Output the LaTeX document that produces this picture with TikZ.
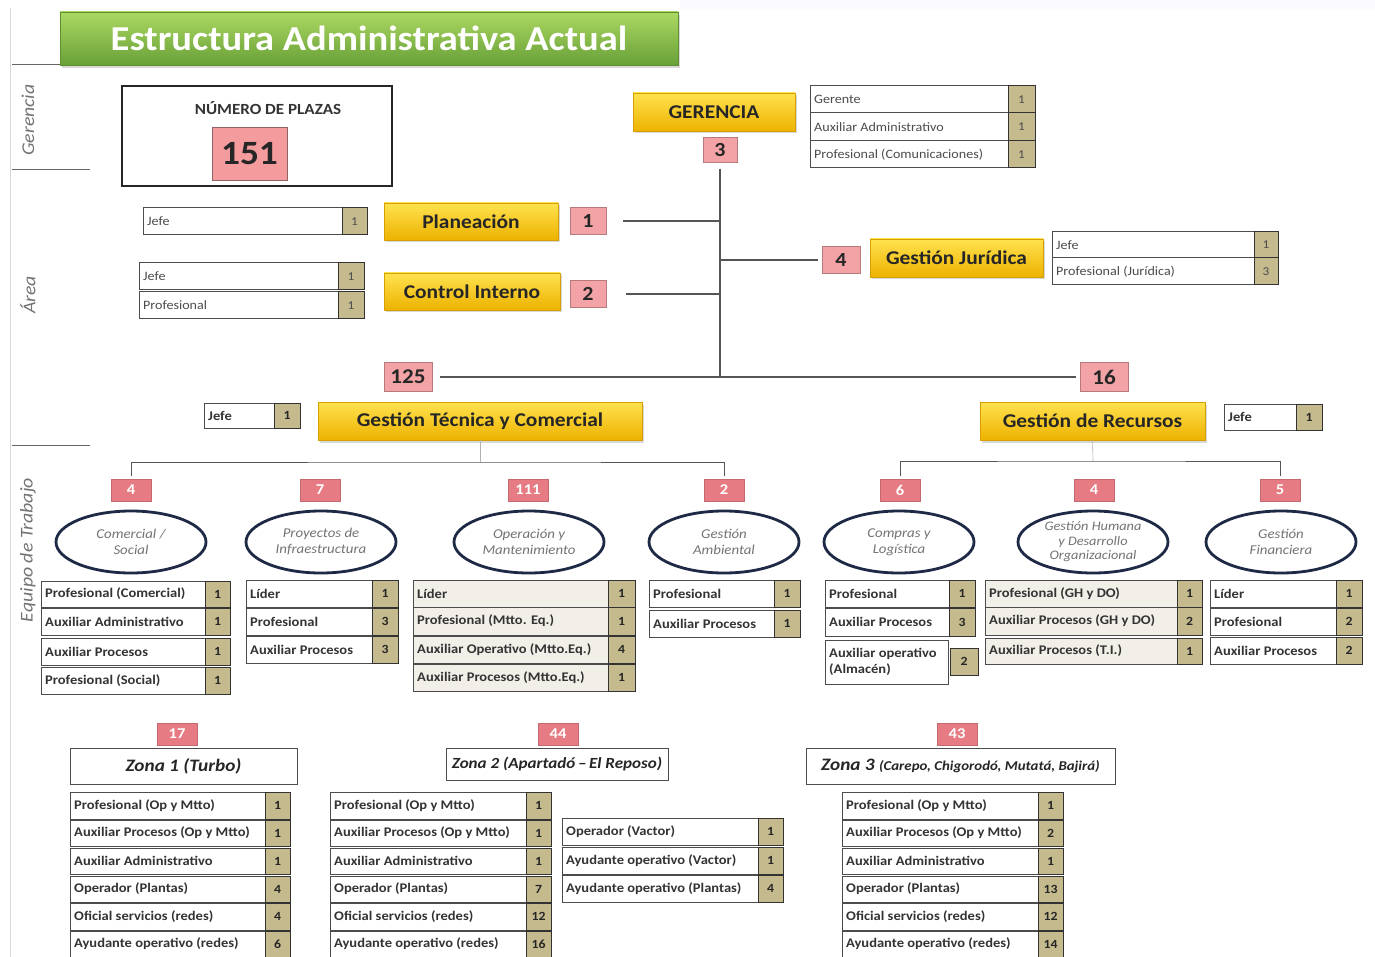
\documentclass[tikz,border=0pt]{standalone}
\usepackage{fontspec}
\setmainfont{Carlito}[FakeStretch=1.1]
\usetikzlibrary{shapes.geometric,shadows}
\definecolor{ytop}{HTML}{FFE24F}
\definecolor{ybot}{HTML}{EDB200}
\definecolor{gtop}{HTML}{ACD862}
\definecolor{gbot}{HTML}{68A038}
\definecolor{pinkA}{HTML}{F3A3A6}
\definecolor{pinkB}{HTML}{E67B83}
\definecolor{khaki}{HTML}{C4BA8E}
\definecolor{navy}{HTML}{1E2A45}
\definecolor{rowgray}{HTML}{F1EFE8}
\definecolor{linec}{HTML}{555555}
\newcommand\fsz[2]{\fontsize{#1}{#2}\selectfont}
% #1 name, #2 xL, #3 yT, #4 xN, #5 xR, #6 yB, #7 text, #8 number
\newcommand\trow[8]{%
  \path[cellbox] (#2,#3) rectangle (#4,#6);
  \path[numbox] (#4,#3) rectangle (#5,#6);
  \node[celltext] (#1) at ({#2+4},{(#3+#6)/2}) {#7};
  \node[numtext] (#1n) at ({(#4+#5)/2},{(#3+#6)/2}) {#8};
}
\begin{document}
\begin{tikzpicture}[x=1pt,y=-1pt,
  cellbox/.style={draw=black!70,line width=1pt,fill=white},
  numbox/.style={draw=black!80,line width=1pt,fill=khaki},
  celltext/.style={anchor=west,inner sep=0pt,font=\fsz{13.2}{15}\bfseries,text=black!80},
  numtext/.style={inner sep=0pt,font=\fsz{12.5}{14}\bfseries,text=black!85},
  yel/.style={rectangle,top color=ytop,bottom color=ybot,draw=ybot!90!black,line width=0.4pt,
     font=\fsz{19.5}{22}\bfseries,text=black!85,inner sep=0pt,
     drop shadow={shadow xshift=1.5pt,shadow yshift=-2.5pt,opacity=0.3}},
  tb/.style={rectangle,fill=pinkA,draw=pinkA!75!black,line width=0.4pt,inner sep=0pt,
     minimum width=36pt,minimum height=27pt,font=\fsz{20}{22}\bfseries,text=black!85},
  sb/.style={rectangle,fill=pinkB,draw=pinkB!85!black,line width=0.4pt,inner sep=0pt,
     minimum width=40pt,minimum height=22pt,font=\fsz{15}{17}\bfseries,text=white},
  ell/.style={ellipse,draw=navy,line width=2.8pt,fill=white,inner sep=0pt,
     minimum width=150pt,minimum height=62pt,align=center,
     font=\fsz{13.5}{16}\itshape,text=black!55},
  zone/.style={rectangle,draw=black!70,line width=1pt,fill=white,inner sep=0pt,
     font=\fsz{17.5}{19}\bfseries\itshape,text=black!85},
  conn/.style={draw=linec,line width=1.2pt},
  sep/.style={draw=black!60,line width=1pt},
  side/.style={rotate=90,font=\fsz{18}{20}\itshape,text=black!55,inner sep=0pt}
]
\useasboundingbox (0,0) rectangle (1375,957);
\fill[white] (0,0) rectangle (1375,957);
\fill[blue!2] (680,0) rectangle (1375,10);
\draw[black!15,line width=1pt] (10,8) -- (10,957);

% ---------- title ----------
\draw[sep] (12,65) -- (62,65);
\node[rectangle,top color=gtop,bottom color=gbot,draw=gbot!90!black,line width=0.4pt,
  minimum width=618pt,minimum height=53pt,inner sep=0pt,
  font=\fsz{35}{37}\bfseries,text=white,
  drop shadow={shadow xshift=2pt,shadow yshift=-3pt,opacity=0.3}]
  (title) at (369,38.5) {Estructura Administrativa Actual};

% ---------- side labels ----------
\node[side] (lger) at (28,120) {Gerencia};
\node[side] (lare) at (28,295) {Área};
\node[side] (lequ) at (28,550) {Equipo de Trabajo};
\draw[sep] (12,170) -- (90,170);
\draw[sep] (12,445) -- (90,445);

% ---------- número de plazas ----------
\node[draw=black!85,line width=2pt,minimum width=270pt,minimum height=100pt,inner sep=0pt] (npbox) at (257,136) {};
\node[font=\fsz{15.5}{17}\bfseries,text=black!80,inner sep=0pt] (nplab) at (268,108) {NÚMERO DE PLAZAS};
\node[rectangle,fill=pinkA!95!red,draw=pinkA!60!black,line width=0.6pt,minimum width=75pt,minimum height=53pt,
  inner sep=0pt,font=\fsz{34}{36}\bfseries,text=black!85] (p151) at (249.5,153.5) {151};

% ---------- gerencia ----------
\node[yel,minimum width=162pt,minimum height=38pt] (ger) at (714,112) {GERENCIA};
\node[tb,minimum width=34pt,minimum height=25pt] (g3) at (720,150) {3};
\begin{scope}[celltext/.append style={font=\fsz{12.8}{15},text=black!70},numtext/.append style={font=\fsz{12}{14},text=black!70}]
\trow{gr1}{810}{86}{1008}{1035}{113}{Gerente}{1}
\trow{gr2}{810}{113}{1008}{1035}{141}{Auxiliar Administrativo}{1}
\trow{gr3}{810}{141}{1008}{1035}{168}{Profesional (Comunicaciones)}{1}
\end{scope}

% ---------- áreas ----------
\begin{scope}[celltext/.append style={font=\fsz{12.8}{15},text=black!70},numtext/.append style={font=\fsz{12}{14},text=black!70}]
\trow{pl1}{143}{208}{342}{367}{235}{Jefe}{1}
\trow{ci1}{139}{263}{338}{364}{290}{Jefe}{1}
\trow{ci2}{139}{292}{338}{364}{319}{Profesional}{1}
\trow{ju1}{1052}{232}{1254}{1278}{258}{Jefe}{1}
\trow{ju2}{1052}{258}{1254}{1278}{285}{Profesional (Jurídica)}{3}
\end{scope}
\node[yel,minimum width=174pt,minimum height=37pt] (pla) at (471,221.5) {Planeación};
\node[tb] (b1) at (588,221) {1};
\node[yel,minimum width=176pt,minimum height=37pt] (ctl) at (472,291.5) {Control Interno};
\node[tb] (b2) at (588,294) {2};
\node[yel,minimum width=173pt,minimum height=38pt] (jur) at (956.5,258) {Gestión Jurídica};
\node[tb,minimum width=38pt] (b4) at (841,260) {4};

% ---------- main branches ----------
\node[tb,minimum width=48pt,minimum height=29pt,font=\fsz{21}{23}\bfseries] (b125) at (408,377) {125};
\node[tb,minimum width=48pt,minimum height=29pt,font=\fsz{21}{23}\bfseries] (b16) at (1104,377) {16};
\coordinate (vjoin) at (720,377);
\node[yel,minimum width=324pt,minimum height=38pt] (gtc) at (480,421) {Gestión Técnica y Comercial};
\node[yel,minimum width=225pt,minimum height=38pt] (gdr) at (1092.5,421) {Gestión de Recursos};
\trow{gt1}{204}{403}{274}{300}{428}{Jefe}{1}
\trow{gd1}{1224}{404}{1296}{1322}{430}{Jefe}{1}

\draw[conn] ([yshift=-6pt]g3.south) -- (vjoin);
\draw[conn] ([xshift=17pt]b1.east) -- (b1.east -| vjoin);
\draw[conn] ([xshift=20pt]b2.east) -- (b2.east -| vjoin);
\draw[conn] (b4.west -| vjoin) -- ([xshift=-4pt]b4.west);
\draw[conn] ([xshift=8pt]b125.east) -- ([xshift=-4pt]b16.west);

% ---------- equipos ----------
\node[sb] (s1) at (131,490) {4};
\node[sb] (s2) at (320,490) {7};
\node[sb] (s3) at (528,490) {111};
\node[sb] (s4) at (724,490) {2};
\node[sb] (s5) at (900,490) {6};
\node[sb] (s6) at (1094,490) {4};
\node[sb] (s7) at (1280,490) {5};
\coordinate (lbar) at (480,462);
\coordinate (rbar) at (1093,461);
\draw[conn,line width=1pt] ([yshift=3pt]s1.north) |- (lbar) -| ([yshift=3pt]s4.north);
\draw[conn,line width=0.6pt,black!30] (gtc.south) -- (lbar);
\draw[conn,line width=1pt] ([yshift=3pt]s5.north) |- (rbar) -| ([yshift=3pt]s7.north);
\draw[conn,line width=0.6pt,black!30] (gdr.south) -- (rbar);

\node[ell] (e1) at (131,542) {Comercial /\\Social};
\node[ell] (e2) at (321,542) {Proyectos de\\Infraestructura};
\node[ell] (e3) at (529,542) {Operación y\\Mantenimiento};
\node[ell] (e4) at (724,542) {Gestión\\Ambiental};
\node[ell] (e5) at (899,542) {Compras y\\Logística};
\node[ell,font=\fsz{13}{14.5}\itshape] (e6) at (1093,542) {Gestión Humana\\y Desarrollo\\Organizacional};
\node[ell] (e7) at (1281,542) {Gestión\\Financiera};

\trow{cs1}{41}{581}{205}{230}{607}{Profesional (Comercial)}{1}
\trow{cs2}{41}{608}{205}{230}{635}{Auxiliar Administrativo}{1}
\trow{cs3}{41}{638}{205}{230}{665}{Auxiliar Procesos}{1}
\trow{cs4}{41}{667}{205}{230}{694}{Profesional (Social)}{1}

\trow{pi1}{246}{580}{372}{398}{607}{Líder}{1}
\trow{pi2}{246}{608}{372}{398}{635}{Profesional}{3}
\trow{pi3}{246}{636}{372}{398}{663}{Auxiliar Procesos}{3}

\begin{scope}[cellbox/.append style={fill=rowgray}]
\trow{om1}{413}{580}{608}{635}{607}{Líder}{1}
\trow{om2}{413}{607}{608}{635}{635}{Profesional (Mtto. Eq.)}{1}
\trow{om3}{413}{636}{608}{635}{663}{Auxiliar Operativo (Mtto.Eq.)}{4}
\trow{om4}{413}{664}{608}{635}{691}{Auxiliar Procesos (Mtto.Eq.)}{1}
\end{scope}

\trow{ga1}{649}{580}{774}{800}{607}{Profesional}{1}
\trow{ga2}{649}{610}{774}{800}{637}{Auxiliar Procesos}{1}

\trow{cl1}{825}{580}{949}{975}{607}{Profesional}{1}
\trow{cl2}{825}{608}{949}{975}{636}{Auxiliar Procesos}{3}
\path[cellbox] (825,640) rectangle (948,684);
\path[numbox] (950,648) rectangle (978,675);
\node[celltext,align=left,font=\fsz{13.2}{15.5}\bfseries] (cl3) at (829,662) {Auxiliar operativo\\(Almacén)};
\node[numtext] (cl3n) at (964,661.5) {2};

\begin{scope}[cellbox/.append style={fill=rowgray}]
\trow{gh1}{985}{580}{1177}{1202}{607}{Profesional (GH y DO)}{1}
\trow{gh2}{985}{607}{1177}{1202}{635}{Auxiliar Procesos (GH y DO)}{2}
\trow{gh3}{985}{638}{1177}{1202}{664}{Auxiliar Procesos (T.I.)}{1}
\end{scope}

\trow{gf1}{1210}{580}{1336}{1362}{607}{Líder}{1}
\trow{gf2}{1210}{608}{1336}{1362}{635}{Profesional}{2}
\trow{gf3}{1210}{637}{1336}{1362}{664}{Auxiliar Procesos}{2}

% ---------- zonas ----------
\node[sb] (z1b) at (177,734) {17};
\node[sb] (z2b) at (558,734) {44};
\node[sb] (z3b) at (957,734) {43};
\node[zone,minimum width=227pt,minimum height=36pt] (z1) at (183.5,766) {Zona 1 (Turbo)};
\node[zone,minimum width=222pt,minimum height=32pt,font=\fsz{15.5}{17}\bfseries\itshape] (z2) at (557,764) {Zona 2 (Apartadó\,–\,El Reposo)};
\node[zone,minimum width=309pt,minimum height=36pt] (z3) at (960.5,766) {Zona 3 {\fsz{13.5}{15}(Carepo, Chigorodó, Mutatá, Bajirá)}};

\trow{za1}{70}{792}{265}{290}{819}{Profesional (Op y Mtto)}{1}
\trow{za2}{70}{820}{265}{290}{846}{Auxiliar Procesos (Op y Mtto)}{1}
\trow{za3}{70}{848}{265}{290}{874}{Auxiliar Administrativo}{1}
\trow{za4}{70}{876}{265}{290}{902}{Operador (Plantas)}{4}
\trow{za5}{70}{903}{265}{290}{930}{Oficial servicios (redes)}{4}
\trow{za6}{70}{931}{265}{290}{957}{Ayudante operativo (redes)}{6}

\trow{zb1}{330}{792}{526}{551}{819}{Profesional (Op y Mtto)}{1}
\trow{zb2}{330}{820}{526}{551}{846}{Auxiliar Procesos (Op y Mtto)}{1}
\trow{zb3}{330}{848}{526}{551}{874}{Auxiliar Administrativo}{1}
\trow{zb4}{330}{876}{526}{551}{902}{Operador (Plantas)}{7}
\trow{zb5}{330}{903}{526}{551}{930}{Oficial servicios (redes)}{12}
\trow{zb6}{330}{931}{526}{551}{957}{Ayudante operativo (redes)}{16}

\trow{zc1}{562}{818}{758}{783}{845}{Operador (Vactor)}{1}
\trow{zc2}{562}{847}{758}{783}{874}{Ayudante operativo (Vactor)}{1}
\trow{zc3}{562}{875}{758}{783}{902}{Ayudante operativo (Plantas)}{4}

\trow{zd1}{842}{792}{1038}{1063}{819}{Profesional (Op y Mtto)}{1}
\trow{zd2}{842}{820}{1038}{1063}{846}{Auxiliar Procesos (Op y Mtto)}{2}
\trow{zd3}{842}{848}{1038}{1063}{874}{Auxiliar Administrativo}{1}
\trow{zd4}{842}{876}{1038}{1063}{902}{Operador (Plantas)}{13}
\trow{zd5}{842}{903}{1038}{1063}{930}{Oficial servicios (redes)}{12}
\trow{zd6}{842}{931}{1038}{1063}{957}{Ayudante operativo (redes)}{14}
\end{tikzpicture}
\end{document}
